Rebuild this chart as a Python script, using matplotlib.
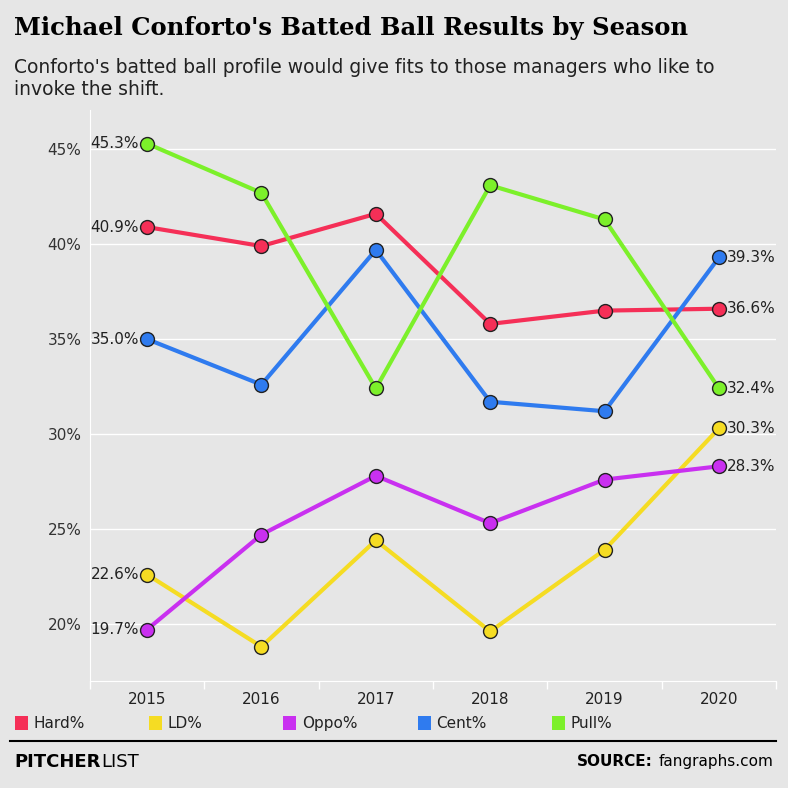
import matplotlib.pyplot as plt
from matplotlib.patches import Rectangle

years = ['2015', '2016', '2017', '2018', '2019', '2020']
hard = [40.9, 39.9, 41.6, 35.8, 36.5, 36.6]
ld = [22.6, 18.8, 24.4, 19.6, 23.9, 30.3]
oppo = [19.7, 24.7, 27.8, 25.3, 27.6, 28.3]
cent = [35.0, 32.6, 39.7, 31.7, 31.2, 39.3]
pull = [45.3, 42.7, 32.4, 43.1, 41.3, 32.4]

names = ['Hard%', 'LD%', 'Oppo%', 'Cent%', 'Pull%']
colors = ['#f52f57', '#f5dc23', '#c930f0', '#2f7bef', '#7cf02a']
series = [hard, ld, oppo, cent, pull]

bg = '#e6e6e6'
fig = plt.figure(figsize=(7.88, 7.88), dpi=100, facecolor=bg)
ax = fig.add_axes([0.114, 0.136, 0.871, 0.724], facecolor=bg)

x = list(range(len(years)))
for s, c in zip(series, colors):
    ax.plot(x, s, color=c, lw=3, marker='o', ms=10, mfc=c, mec='#222222', mew=1, zorder=3)
    ax.text(-0.07, s[0], f'{s[0]:.1f}%', ha='right', va='center', fontsize=11, color='#222222')
    ax.text(5.07, s[-1], f'{s[-1]:.1f}%', ha='left', va='center', fontsize=11, color='#222222')

ax.set_xlim(-0.5, 5.5)
ax.set_ylim(17, 47.05)
ax.set_yticks([20, 25, 30, 35, 40, 45])
ax.set_yticklabels([f'{v}%' for v in [20, 25, 30, 35, 40, 45]], fontsize=11, color='#333333')
ax.set_xticks(x)
ax.set_xticklabels(years, fontsize=11, color='#222222')
ax.set_xticks([i - 0.5 for i in range(7)], minor=True)
ax.tick_params(axis='x', which='major', length=0, pad=8)
ax.tick_params(axis='x', which='minor', length=6, color='white', width=1)
ax.tick_params(axis='y', length=0, pad=6)
ax.grid(axis='y', color='white', lw=1)
for sp in ['top', 'right']:
    ax.spines[sp].set_visible(False)
ax.spines['left'].set_color('white')
ax.spines['bottom'].set_color('white')

fig.text(0.018, 0.965, "Michael Conforto's Batted Ball Results by Season", fontsize=17.5,
         fontweight='bold', family='DejaVu Serif', va='center')
fig.text(0.018, 0.9, "Conforto's batted ball profile would give fits to those managers who like to\ninvoke the shift.",
         fontsize=13.5, va='center', color='#222222', linespacing=1.2)

lx = [0.019, 0.189, 0.359, 0.530, 0.700]
for xx, n, c in zip(lx, names, colors):
    fig.patches.append(Rectangle((xx, 0.074), 0.017, 0.017, transform=fig.transFigure,
                                 facecolor=c, edgecolor='none'))
    fig.text(xx + 0.024, 0.082, n, fontsize=11, va='center', color='#222222')

fig.add_artist(plt.Line2D([0.013, 0.985], [0.0595, 0.0595], color='black', lw=1.5,
                          transform=fig.transFigure))
fig.text(0.018, 0.033, 'PITCHER', fontsize=13, fontweight='bold', va='center')
fig.text(0.128, 0.033, 'LIST', fontsize=13, va='center')
fig.text(0.982, 0.033, 'fangraphs.com', fontsize=11, va='center', ha='right')
fig.text(0.828, 0.033, 'SOURCE:', fontsize=11, fontweight='bold', va='center', ha='right')

fig.savefig('out.png', dpi=100, facecolor=bg)
